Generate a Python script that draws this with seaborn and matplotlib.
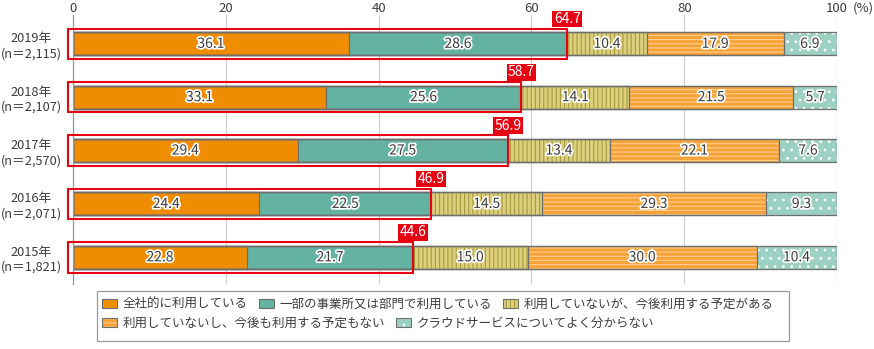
import matplotlib
matplotlib.use("Agg")
import matplotlib.pyplot as plt
import matplotlib.patches as mpatches
import matplotlib.patheffects as pe
from matplotlib.legend_handler import HandlerTuple
import numpy as np
import pandas as pd
import seaborn as sns

# ---- data ----
years = ["2019年\n(n＝2,115)", "2018年\n(n＝2,107)", "2017年\n(n＝2,570)",
         "2016年\n(n＝2,071)", "2015年\n(n＝1,821)"]
series_names = ["全社的に利用している", "一部の事業所又は部門で利用している",
                "利用していないが、今後利用する予定がある",
                "利用していないし、今後も利用する予定もない",
                "クラウドサービスについてよく分からない"]
s1 = [36.1, 33.1, 29.4, 24.4, 22.8]
s2 = [28.6, 25.6, 27.5, 22.5, 21.7]
s3 = [10.4, 14.1, 13.4, 14.5, 15.0]
s4 = [17.9, 21.5, 22.1, 29.3, 30.0]
s5 = [6.9, 5.7, 7.6, 9.3, 10.4]
totals = [64.7, 58.7, 56.9, 46.9, 44.6]
xticks = [0, 20, 40, 60, 80, 100]

sns.set_theme(style="white")
plt.rcParams["font.family"] = ["Noto Sans CJK JP", "DejaVu Sans"]

face = ["#EF8C00", "#64B2A1", "#DCD07E", "#F6A236", "#9CD0C2"]
hatchc = ["#EF8C00", "#64B2A1", "#A99B3A", "#FBCF92", "#FFFFFF"]
hatches = [None, None, "||||", "----", ".."]
plt.rcParams["hatch.linewidth"] = 0.8
edge = "#6E6E6E"
red = "#E60012"
txtc = "#3C3C3C"

series = [s1, s2, s3, s4, s5]
df = pd.DataFrame({"year": years})
cums = np.cumsum(np.array(series), axis=0)
for i in range(5):
    df[f"c{i}"] = cums[i]
df.loc[:, "c4"] = 100.0

fig = plt.figure(figsize=(8.74, 3.49), dpi=100)
ax = fig.add_axes([73 / 874, 1 - 284 / 349, (837 - 73) / 874, (284 - 15) / 349])

bw = 0.43
for i in range(4, -1, -1):
    n0 = len(ax.patches)
    sns.barplot(data=df, x=f"c{i}", y="year", orient="h", color=face[i],
                saturation=1, width=bw, errorbar=None, ax=ax)
    for p in ax.patches[n0:]:
        p.set_facecolor(face[i])
        p.set_edgecolor(hatchc[i])
        p.set_linewidth(0)
        if hatches[i]:
            p.set_hatch(hatches[i])
# outlines
for i in range(4, -1, -1):
    n0 = len(ax.patches)
    sns.barplot(data=df, x=f"c{i}", y="year", orient="h", color=face[i],
                saturation=1, width=bw, errorbar=None, ax=ax)
    for p in ax.patches[n0:]:
        p.set_facecolor("none")
        p.set_edgecolor(edge)
        p.set_linewidth(0.9)

# segment labels
for r in range(5):
    left = 0
    for i in range(5):
        v = series[i][r]
        ax.text(left + v / 2, r, f"{v:.1f}", ha="center", va="center",
                fontsize=10, color=txtc,
                path_effects=[pe.withStroke(linewidth=2.5, foreground="white")])
        left += v

# red boxes and total labels
bh = 0.57
for r in range(5):
    tot = s1[r] + s2[r]
    ax.add_patch(mpatches.Rectangle((-0.7, r - bh / 2), tot + 0.7, bh, fill=False,
                                    edgecolor=red, linewidth=1.5, clip_on=False, zorder=5))
    ax.text(tot, r - bh / 2 - 0.05, f"{totals[r]:.1f}", ha="center", va="bottom",
            fontsize=10, color="white", zorder=6,
            bbox=dict(boxstyle="square,pad=0.1", fc=red, ec="none"))

ax.set_xlim(0, 100)
ax.set_ylim(4.5, -0.54)
ax.set_xlabel("")
ax.set_ylabel("")
ax.xaxis.tick_top()
ax.set_xticks(xticks)
ax.set_xticklabels([str(t) for t in xticks])
ax.tick_params(axis="x", length=0, pad=0, labelsize=9.5, labelcolor=txtc)
ax.tick_params(axis="y", which="major", length=0, pad=30, labelsize=9.2, labelcolor=txtc)
for lab in ax.get_yticklabels():
    lab.set_horizontalalignment("center")
    lab.set_multialignment("center")
ax.set_yticks([0.5, 1.5, 2.5, 3.5], minor=True)
ax.tick_params(axis="y", which="minor", direction="in", length=5, color="#9A9A9A", width=0.9)
ax.grid(axis="x", color="#D0D0D0", linewidth=0.9)
ax.set_axisbelow(True)
for s in ["top", "right", "bottom"]:
    ax.spines[s].set_visible(False)
ax.spines["left"].set_color("#9A9A9A")
ax.spines["left"].set_linewidth(0.9)
ax.annotate("(%)", xy=(100, 1), xycoords=("data", "axes fraction"),
            xytext=(11, 0), textcoords="offset points", ha="left", va="bottom",
            fontsize=9.5, color=txtc, annotation_clip=False)

# legend
handles = []
for i in range(5):
    h1 = mpatches.Patch(facecolor=face[i], edgecolor=hatchc[i], hatch=hatches[i], linewidth=0)
    h2 = mpatches.Patch(facecolor="none", edgecolor=edge, linewidth=0.8)
    handles.append((h1, h2))
common = dict(frameon=False, fontsize=9, handlelength=1.2, handleheight=0.8,
              handletextpad=0.45, columnspacing=0.9, borderpad=0, borderaxespad=0,
              handler_map={tuple: HandlerTuple(ndivide=1)}, loc="upper left",
              labelcolor=txtc)
leg1 = fig.legend(handles[:3], series_names[:3], ncol=3,
                  bbox_to_anchor=(102 / 874, 1 - 298 / 349), **common)
leg2 = fig.legend(handles[3:], series_names[3:], ncol=2,
                  bbox_to_anchor=(102 / 874, 1 - 317 / 349), **common)
fig.add_artist(mpatches.Rectangle((97 / 874, 1 - 341 / 349), (789 - 97) / 874, 50 / 349,
                                  transform=fig.transFigure, fill=False,
                                  edgecolor="#9A9A9A", linewidth=0.9))

fig.savefig("out.png", dpi=100)
